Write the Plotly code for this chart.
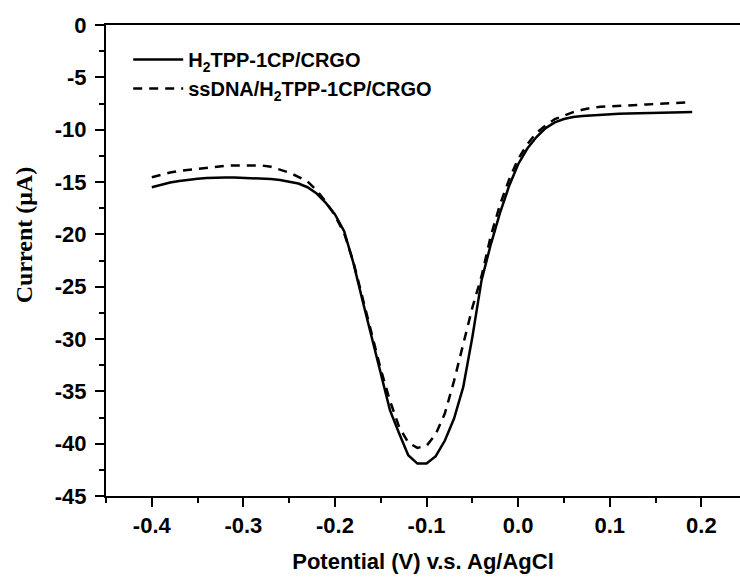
import plotly.graph_objects as go

potential = [round(-0.40 + 0.01 * i, 2) for i in range(60)]

current_crgo = [
    -15.5, -15.25, -15.05, -14.9, -14.78, -14.7, -14.62, -14.57, -14.56, -14.57,
    -14.6, -14.62, -14.66, -14.72, -14.8, -14.95, -15.15, -15.5, -16.1, -17.0,
    -18.1, -19.7, -22.7, -26.3, -29.9, -33.5, -36.8, -39.0, -41.1, -41.9,
    -41.9, -41.2, -39.7, -37.6, -34.6, -29.8, -24.4, -21.0, -18.0, -15.4,
    -13.3, -11.8, -10.7, -9.85, -9.3, -8.98, -8.8, -8.7, -8.63, -8.58,
    -8.53, -8.49, -8.45, -8.42, -8.39, -8.37, -8.35, -8.34, -8.33, -8.32,
]

current_ssdna = [
    -14.55, -14.3, -14.1, -13.95, -13.85, -13.73, -13.62, -13.52, -13.46, -13.42,
    -13.4, -13.4, -13.42, -13.55, -13.8, -14.1, -14.5, -14.95, -15.8, -16.9,
    -18.2, -19.9, -22.6, -26.0, -29.5, -32.9, -35.9, -38.4, -39.9, -40.4,
    -40.2, -39.1, -37.1, -34.0, -30.5, -27.0, -24.0, -20.2, -17.2, -14.8,
    -12.8, -11.4, -10.3, -9.6, -9.0, -8.63, -8.33, -8.1, -7.9, -7.82,
    -7.76, -7.72, -7.67, -7.63, -7.59, -7.55, -7.5, -7.45, -7.4, -7.36,
]

series_names = ["<b>H<sub>2</sub>TPP-1CP/CRGO</b>",
                "<b>ssDNA/H<sub>2</sub>TPP-1CP/CRGO</b>"]

x_ticks = [-0.4, -0.3, -0.2, -0.1, 0.0, 0.1, 0.2]
x_tick_labels = ["-0.4", "-0.3", "-0.2", "-0.1", "0.0", "0.1", "0.2"]
y_ticks = [0, -5, -10, -15, -20, -25, -30, -35, -40, -45]
y_tick_labels = ["0", "-5", "-10", "-15", "-20", "-25", "-30", "-35", "-40", "-45"]

fig = go.Figure()
fig.add_trace(go.Scatter(x=potential, y=current_crgo, mode='lines', name=series_names[0],
                         line=dict(color='black', width=2.5)))
fig.add_trace(go.Scatter(x=potential, y=current_ssdna, mode='lines', name=series_names[1],
                         line=dict(color='black', width=2.5, dash='9px,7px')))

tick_font = dict(family='Liberation Sans', size=22, color='black', weight='bold')

fig.update_layout(
    width=740, height=579,
    margin=dict(l=106, r=0, t=25, b=83),
    plot_bgcolor='white', paper_bgcolor='white',
    showlegend=True,
    legend=dict(x=0.035, y=0.968, xanchor='left', yanchor='top',
                font=dict(family='Liberation Sans', size=20, color='black'),
                bgcolor='rgba(0,0,0,0)', itemwidth=50, tracegroupgap=0),
    xaxis=dict(
        range=[-0.45, 0.2422], tickvals=x_ticks, ticktext=x_tick_labels,
        showgrid=False, zeroline=False, showline=True, linecolor='black', linewidth=2,
        mirror=True, ticks='outside', ticklen=9, tickwidth=2, tickcolor='black',
        tickfont=tick_font, automargin=False,
        minor=dict(dtick=0.1, tick0=-0.45, ticks='outside', ticklen=5, tickwidth=2,
                   tickcolor='black', showgrid=False),
        title=dict(text='<b>Potential (V) v.s. Ag/AgCl</b>', standoff=16,
                   font=dict(family='Liberation Sans', size=22, color='black')),
    ),
    yaxis=dict(
        range=[-45, 0], tickvals=y_ticks, ticktext=y_tick_labels,
        showgrid=False, zeroline=False, showline=True, linecolor='black', linewidth=2,
        mirror=False, ticks='outside', ticklen=9, tickwidth=2, tickcolor='black',
        tickfont=tick_font, automargin=False, ticklabelstandoff=4,
        minor=dict(dtick=5, tick0=-2.5, ticks='outside', ticklen=5, tickwidth=2,
                   tickcolor='black', showgrid=False),
    ),
    annotations=[dict(text='<b>Current (μA)</b>', textangle=-90, showarrow=False,
                      xref='paper', yref='paper', x=-0.129, y=0.554,
                      xanchor='center', yanchor='middle',
                      font=dict(family='Liberation Serif', size=24, color='black'))],
)

# drop the page's default body margin and scrollbars so the figure fills the window
fig.write_html("out.html", config={'displayModeBar': False},
               post_script="document.body.style.margin='0';"
                           "document.body.style.overflow='hidden';"
                           "document.documentElement.style.overflow='hidden';")
